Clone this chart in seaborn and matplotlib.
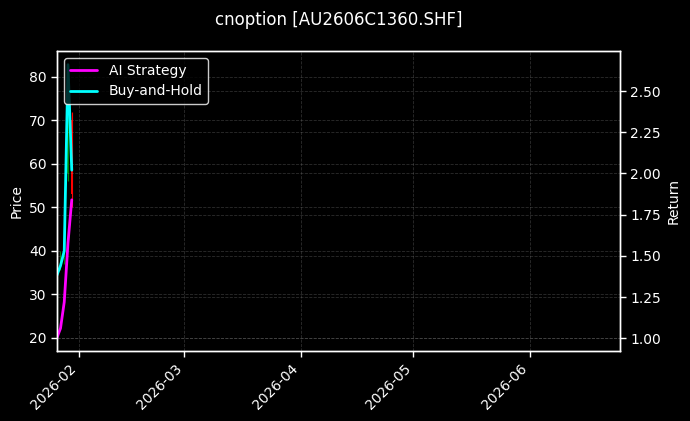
import numpy as np
import pandas as pd
import matplotlib
matplotlib.use("Agg")
import matplotlib.pyplot as plt
import matplotlib.dates as mdates
import seaborn as sns

# --- data ---
dates = pd.to_datetime(["2026-01-26", "2026-01-27", "2026-01-28", "2026-01-29", "2026-01-30"])
price_open = [36.0, 37.5, 39.0, 58.0, 70.0]
price_high = [38.0, 40.0, 45.0, 80.6, 72.0]
price_low = [20.1, 35.5, 37.0, 56.0, 50.0]
price_close = [37.0, 38.5, 41.0, 70.0, 53.0]
ai_strategy = [1.00, 1.06, 1.22, 1.58, 1.84]
buy_and_hold = [1.38, 1.44, 1.53, 2.66, 2.02]

title = "cnoption [AU2606C1360.SHF]"

sns.set_theme(style="dark", rc={
    "figure.facecolor": "black",
    "axes.facecolor": "black",
    "axes.edgecolor": "white",
    "axes.labelcolor": "white",
    "axes.linewidth": 1.0,
    "axes.labelsize": 10,
    "text.color": "white",
    "xtick.color": "white",
    "ytick.color": "white",
    "xtick.bottom": True,
    "ytick.left": True,
    "ytick.right": True,
    "grid.color": "#808080",
})
plt.rcParams["font.family"] = ["DejaVu Sans"]

fig = plt.figure(figsize=(6.9, 4.21), dpi=100)
ax = fig.add_axes([57.2 / 690, 1 - 351 / 421, (620 - 57.2) / 690, 300 / 421])
ax2 = ax.twinx()

# candlesticks on the price axis
ohlc = pd.DataFrame({"date": dates, "open": price_open, "high": price_high,
                     "low": price_low, "close": price_close})
up = ohlc["close"] >= ohlc["open"]
colors = np.where(up, "green", "red")
ax.vlines(ohlc["date"], ohlc["low"], ohlc["high"], colors=colors, lw=0.8)
ax.bar(ohlc["date"], (ohlc["close"] - ohlc["open"]).abs(),
       bottom=ohlc[["open", "close"]].min(axis=1), width=0.5, color=colors,
       edgecolor="none", linewidth=0)

# equity curves on the return axis
curves = pd.DataFrame({"date": dates, "AI Strategy": ai_strategy, "Buy-and-Hold": buy_and_hold})
long = curves.melt(id_vars="date", var_name="series", value_name="ret")
sns.lineplot(data=long, x="date", y="ret", hue="series", ax=ax2,
             palette={"AI Strategy": "magenta", "Buy-and-Hold": "cyan"}, lw=2)

ax.set_xlim(pd.Timestamp("2026-01-26 03:00"), pd.Timestamp("2026-06-25"))
ax.set_ylim(16.95, 85.96)
ax2.set_ylim(0.923, 2.743)
ax.set_yticks([20, 30, 40, 50, 60, 70, 80])
ax2.set_yticks([1.00, 1.25, 1.50, 1.75, 2.00, 2.25, 2.50])
ax2.yaxis.set_major_formatter(matplotlib.ticker.FormatStrFormatter("%.2f"))

ax.xaxis.set_major_locator(mdates.MonthLocator())
ax.xaxis.set_major_formatter(mdates.DateFormatter("%Y-%m"))
plt.setp(ax.get_xticklabels(), rotation=45, ha="right")

ax.set_ylabel("Price", fontsize=10)
ax2.set_ylabel("Return", fontsize=10)
ax.set_xlabel("")
ax2.set_xlabel("")
ax.set_title(title, fontsize=12, pad=19)

for a in (ax, ax2):
    a.tick_params(labelsize=10, length=4, width=1)
    a.grid(True, linestyle="--", linewidth=0.6, alpha=0.35)
    for s in a.spines.values():
        s.set_color("white")
        s.set_linewidth(1.0)
ax.tick_params(axis="y", right=False)
ax2.tick_params(axis="y", left=False)

leg = ax2.legend(loc="upper left", facecolor="black", edgecolor="white", fontsize=10)
leg.set_title(None)
for line in leg.get_lines():
    line.set_linewidth(2)
for t in leg.get_texts():
    t.set_color("white")

fig.savefig("out.png", dpi=100, facecolor="black")
